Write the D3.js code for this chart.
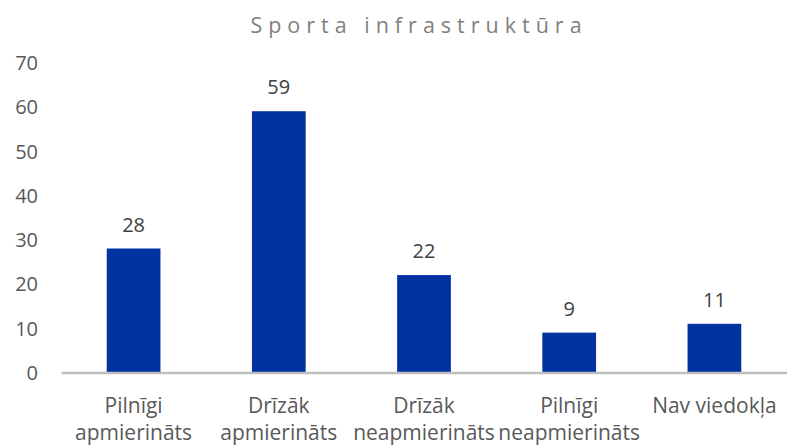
<!DOCTYPE html>
<html>
<head>
<meta charset="utf-8">
<script src="https://cdn.jsdelivr.net/npm/d3@7"></script>
<style>
  body { margin: 0; background: #fff; }
  svg text { font-family: "Open Sans", sans-serif; }
</style>
</head>
<body>
<svg id="chart" width="787" height="445"></svg>
<script>
// chart data
const categories = [
  ['Pilnīgi', 'apmierināts'],
  ['Drīzāk', 'apmierināts'],
  ['Drīzāk', 'neapmierināts'],
  ['Pilnīgi', 'neapmierināts'],
  ['Nav viedokļa']
];
const values = [28, 59, 22, 9, 11];
const yTicks = [0, 10, 20, 30, 40, 50, 60, 70];
const title = 'Sporta infrastruktūra';

const svg = d3.select('#chart');

const plotLeft = 61, plotRight = 787, plotTop = 62.5, plotBottom = 372.5;

let x = d3.scaleBand()
	.domain(d3.range(values.length))
	.range([plotLeft, plotRight])
	.paddingInner(0.63)
	.paddingOuter(0.315);

let y = d3.scaleLinear()
	.domain([0, 70])
	.range([plotBottom, plotTop]);

// title
svg.append('text')
	.attr('x', 419)
	.attr('y', 33)
	.attr('text-anchor', 'middle')
	.style('font-size', '21.5px')
	.style('letter-spacing', '6px')
	.style('fill', '#7f7f7f')
	.text(title);

// y axis labels
let yAxis = svg.append('g')
	.attr('transform', 'translate(38,0)')
	.call(d3.axisLeft(y).tickValues(yTicks).tickSize(0).tickPadding(0));

yAxis.select('.domain').remove();
yAxis.selectAll('text')
	.style('font-size', '20px')
	.style('fill', '#595959')
	.attr('dy', '0.35em');

// bars
svg.selectAll('rect.bar')
	.data(values)
	.enter()
	.append('rect')
	.attr('class', 'bar')
	.attr('x', (d, i) => x(i))
	.attr('y', d => y(d))
	.attr('width', x.bandwidth())
	.attr('height', d => y(0) - y(d))
	.style('fill', '#0033a0');

// value labels
svg.selectAll('text.val')
	.data(values)
	.enter()
	.append('text')
	.attr('class', 'val')
	.attr('x', (d, i) => x(i) + x.bandwidth() / 2)
	.attr('y', d => y(d) - 17)
	.attr('text-anchor', 'middle')
	.style('font-size', '20px')
	.style('fill', '#404040')
	.text(d => d);

// category axis line
let xAxis = svg.append('g')
	.attr('transform', 'translate(0,' + plotBottom + ')')
	.call(d3.axisBottom(x).tickSize(0).tickFormat(''));

xAxis.select('.domain')
	.attr('stroke', '#bfbfbf')
	.attr('stroke-width', 2.5);

// category labels
let cats = svg.selectAll('text.cat')
	.data(categories)
	.enter()
	.append('text')
	.attr('class', 'cat')
	.attr('text-anchor', 'middle')
	.style('font-size', '21px')
	.style('fill', '#595959');

cats.selectAll('tspan')
	.data((d, i) => d.map(line => ({line: line, i: i})))
	.enter()
	.append('tspan')
	.attr('x', d => x(d.i) + x.bandwidth() / 2)
	.attr('y', (d, j) => 413 + j * 27)
	.text(d => d.line);
</script>
</body>
</html>
